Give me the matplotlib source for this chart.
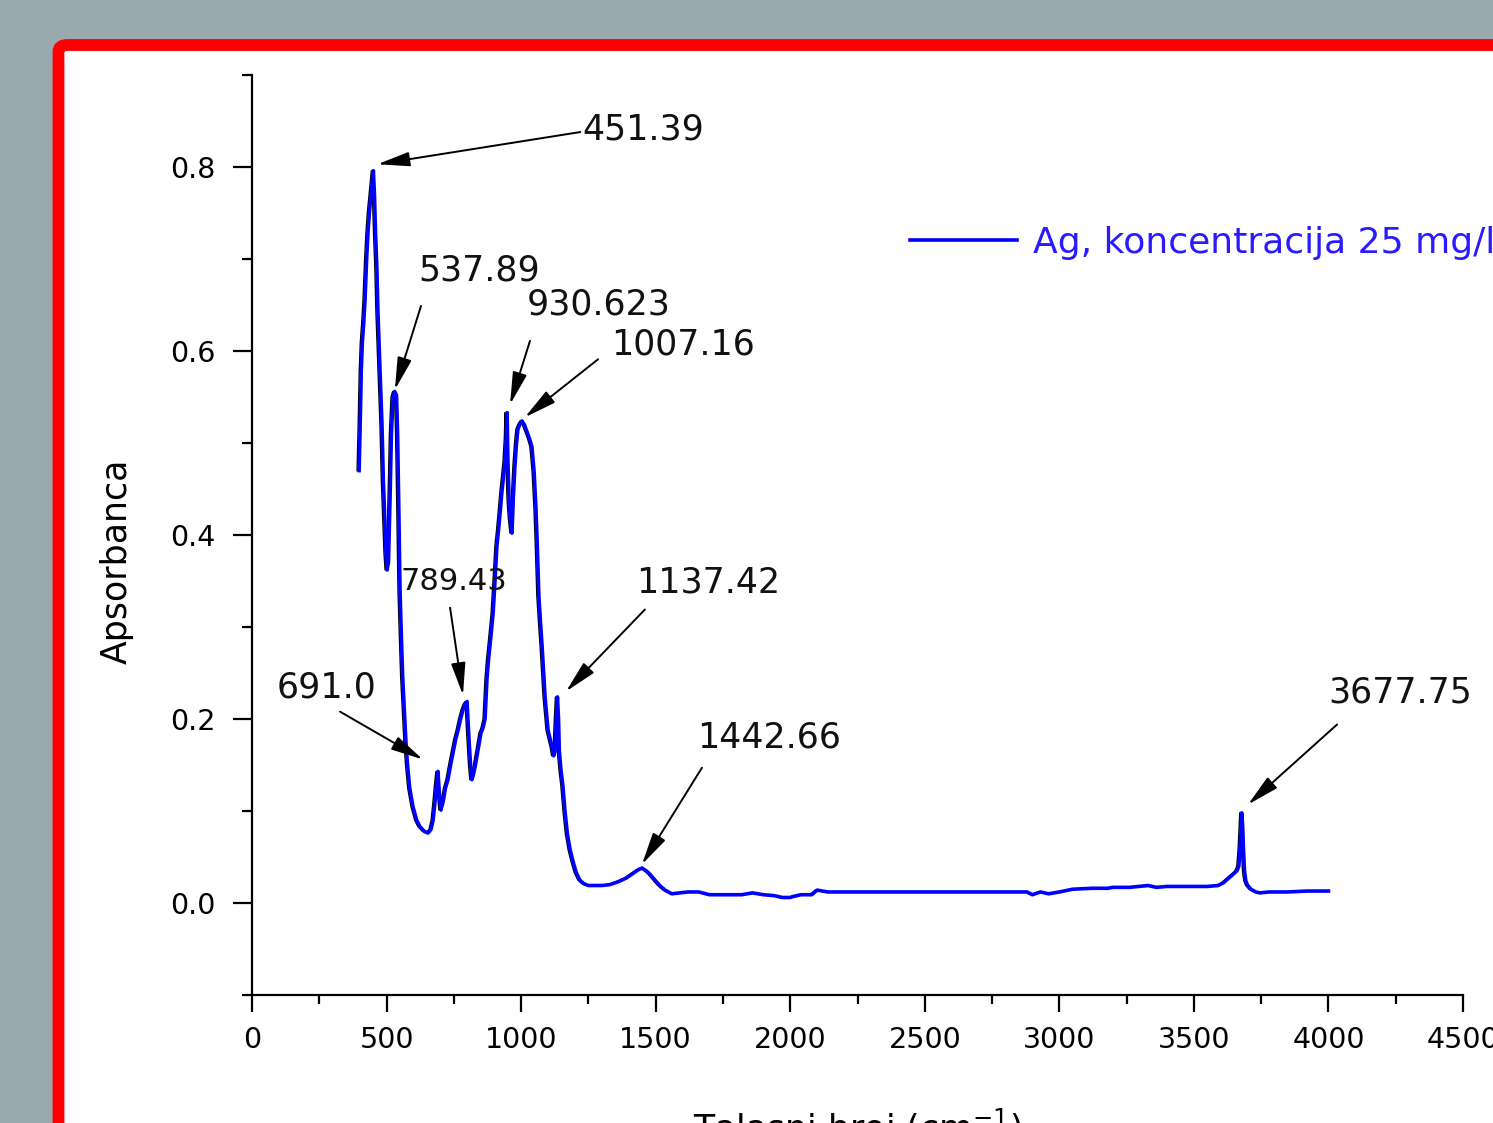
import matplotlib
matplotlib.use("Agg")
import matplotlib.pyplot as plt
import matplotlib.transforms as mtransforms
from matplotlib.patches import FancyBboxPatch
from matplotlib.ticker import MultipleLocator

# spectrum
wavenumber = [398, 402, 406, 410, 415, 420, 426, 431, 436, 441, 446, 451,
              455, 459, 464, 468, 473, 478, 483, 488, 494, 498, 502,
              507, 513, 518, 524, 530, 537, 541, 546, 550, 555, 560, 566, 572,
              578, 586, 598, 612, 624, 640, 654, 665, 673, 680, 686, 691, 696,
              702, 710, 719, 728, 738, 747, 757, 766, 775, 784, 792, 799, 806,
              812, 817, 823, 829, 836, 843, 851, 858, 866, 873, 879, 884, 890,
              896, 903, 910, 916, 922, 928, 934, 940, 945, 948, 951, 955, 960,
              966, 971, 977, 983, 988, 995, 1003, 1012, 1022, 1031, 1040, 1048,
              1055, 1060, 1066, 1072, 1078, 1084, 1089, 1095, 1100, 1108, 1115,
              1121, 1126, 1131, 1135, 1139, 1142, 1148, 1155, 1163, 1172, 1182,
              1193, 1205, 1218, 1233, 1250, 1275, 1300, 1330, 1360, 1390, 1415,
              1435, 1449, 1465, 1480, 1497, 1515, 1535, 1560, 1590, 1620, 1660,
              1700, 1760, 1820, 1860, 1900, 1940, 1970, 2000, 2010, 2040, 2080,
              2100, 2140, 2200, 2400, 2600, 2800, 2880, 2900, 2930, 2960, 3000,
              3050, 3120, 3180, 3200, 3260, 3330, 3360, 3400, 3450, 3500, 3550,
              3590, 3610, 3625, 3645, 3660, 3667, 3672, 3676, 3678, 3681, 3684,
              3688, 3693, 3700, 3712, 3730, 3745, 3780, 3850, 3920, 4000]
absorbance = [0.470, 0.520, 0.578, 0.610, 0.630, 0.656, 0.700, 0.729, 0.750, 0.765, 0.780, 0.796,
              0.770, 0.729, 0.690, 0.642, 0.600, 0.560, 0.520, 0.460, 0.410, 0.380, 0.362,
              0.370, 0.440, 0.510, 0.550, 0.556, 0.552, 0.510, 0.420, 0.340, 0.290, 0.245, 0.210, 0.175,
              0.150, 0.125, 0.105, 0.090, 0.083, 0.078, 0.076, 0.080, 0.090, 0.110, 0.130, 0.143, 0.120,
              0.101, 0.110, 0.125, 0.134, 0.150, 0.163, 0.178, 0.188, 0.200, 0.210, 0.216, 0.219, 0.180,
              0.150, 0.134, 0.140, 0.148, 0.160, 0.172, 0.185, 0.190, 0.200, 0.243, 0.265, 0.279, 0.297,
              0.315, 0.350, 0.388, 0.405, 0.424, 0.445, 0.462, 0.479, 0.505, 0.533, 0.480, 0.440, 0.418,
              0.402, 0.440, 0.475, 0.500, 0.515, 0.520, 0.524, 0.520, 0.512, 0.505, 0.496, 0.470,
              0.430, 0.390, 0.333, 0.305, 0.279, 0.250, 0.224, 0.205, 0.188, 0.178, 0.170,
              0.160, 0.165, 0.200, 0.224, 0.200, 0.165, 0.145, 0.128, 0.100, 0.075, 0.058,
              0.045, 0.033, 0.025, 0.021, 0.019, 0.019, 0.019, 0.020, 0.023, 0.027, 0.032,
              0.036, 0.038, 0.035, 0.031, 0.025, 0.019, 0.014, 0.010, 0.011, 0.012, 0.012,
              0.009, 0.009, 0.009, 0.011, 0.009, 0.008, 0.006, 0.006, 0.007, 0.009, 0.009,
              0.014, 0.012, 0.012, 0.012, 0.012, 0.012, 0.012, 0.009, 0.012, 0.010, 0.012,
              0.015, 0.016, 0.016, 0.017, 0.017, 0.019, 0.017, 0.018, 0.018, 0.018, 0.018,
              0.019, 0.022, 0.026, 0.031, 0.035, 0.040, 0.060, 0.085, 0.098, 0.085, 0.060,
              0.035, 0.024, 0.019, 0.015, 0.012, 0.011, 0.012, 0.012, 0.013, 0.013]

peak_labels = ["451.39", "537.89", "930.623", "1007.16", "789.43", "691.0",
               "1137.42", "1442.66", "3677.75"]

# label anchor (left, centre) and arrow tail/head, in data units
label_pos = [(1226, 0.841), (617, 0.687), (1022, 0.651), (1334, 0.607), (550, 0.349),
             (93, 0.234), (1427, 0.348), (1654, 0.180), (3998, 0.229)]
arrow_from = [(1220, 0.838), (628, 0.649), (1033, 0.611), (1286, 0.591), (736, 0.321),
              (327, 0.208), (1460, 0.319), (1672, 0.147), (4032, 0.194)]
arrow_to = [(466, 0.803), (531, 0.558), (959, 0.542), (1014, 0.528), (784, 0.226),
            (635, 0.156), (1167, 0.230), (1449, 0.042), (3701, 0.107)]
label_size = [25, 25, 25, 25, 22, 25, 25, 25, 25]

W, H = 1493, 1123
fig = plt.figure(figsize=(W / 100, H / 100), dpi=100)
fig.patch.set_facecolor("#9aa9ae")

# red frame, running off the right and bottom edges
frame = FancyBboxPatch((58.5 / W, -0.1), 1.2, (H - 45) / H + 0.1,
                       boxstyle="round,pad=0,rounding_size=0.006",
                       transform=fig.transFigure, facecolor="white",
                       edgecolor="#ff0000", linewidth=8.5, zorder=-5)
fig.patches.append(frame)

ax = fig.add_axes([252 / W, 1 - 995 / H, (1463 - 252) / W, (995 - 75) / H])
ax.set_facecolor("none")

shift = mtransforms.ScaledTranslation(-2 / 100, 0, fig.dpi_scale_trans)
ax.plot(wavenumber, absorbance, color="black", lw=1.0, transform=ax.transData + shift)
ax.plot(wavenumber, absorbance, color="#0000ff", lw=2.6,
        label="Ag, koncentracija 25 mg/l")

for txt, pos, a, b, fs in zip(peak_labels, label_pos, arrow_from, arrow_to, label_size):
    ax.text(pos[0], pos[1], txt, fontsize=fs, ha="left", va="center", color="#111111")
    ax.annotate("", xy=b, xytext=a,
                arrowprops=dict(arrowstyle="-|>,head_length=0.9,head_width=0.2",
                                color="black", lw=1.4, mutation_scale=22,
                                shrinkA=0, shrinkB=0))

ax.set_xlim(0, 4500)
ax.set_ylim(-0.1, 0.9)
ax.xaxis.set_major_locator(MultipleLocator(500))
ax.xaxis.set_minor_locator(MultipleLocator(250))
ax.yaxis.set_major_locator(MultipleLocator(0.2))
ax.yaxis.set_minor_locator(MultipleLocator(0.1))
ax.yaxis.set_major_formatter(plt.FuncFormatter(lambda v, p: f"{v:.1f}"))

for side in ["top", "right"]:
    ax.spines[side].set_visible(False)
for side in ["left", "bottom"]:
    ax.spines[side].set_linewidth(1.6)

ax.tick_params(axis="x", which="major", direction="out", length=12, width=1.6,
               labelsize=20.5, pad=10)
ax.tick_params(axis="x", which="minor", direction="out", length=6.5, width=1.6)
ax.tick_params(axis="y", which="major", direction="out", length=14, width=1.6,
               labelsize=20.5, pad=12)
ax.tick_params(axis="y", which="minor", direction="out", length=7, width=1.6)

ax.set_xlabel("Talasni broj (cm$^{-1}$)", fontsize=25, labelpad=38)
ax.set_ylabel("Apsorbanca", fontsize=25)
ax.yaxis.set_label_coords(-0.098, 0.471)

leg = ax.legend(loc="center left", bbox_to_anchor=(910 / W, 1 - 243 / H),
                bbox_transform=fig.transFigure, frameon=False, fontsize=26,
                handlelength=2.95, handletextpad=0.45, borderpad=0, borderaxespad=0)
for t in leg.get_texts():
    t.set_color("#2a1aff")

fig.savefig("out.png", dpi=100, facecolor=fig.get_facecolor())
